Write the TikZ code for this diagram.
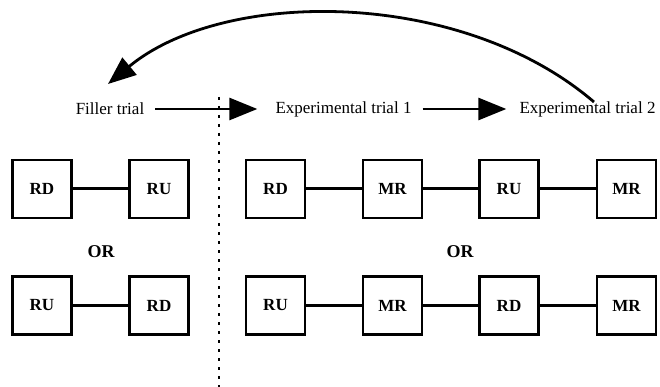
\documentclass[tikz,border=0pt]{standalone}
\usepackage{fontspec}
\setmainfont{Liberation Serif}
\usetikzlibrary{arrows.meta}
\tikzset{
  trialbox/.style={draw,line width=2.5pt,minimum width=59pt,minimum height=58pt,inner sep=0pt,font=\fontsize{17}{20}\selectfont\bfseries},
  link/.style={line width=3pt},
  trialname/.style={font=\fontsize{17}{20}\selectfont,inner sep=0pt},
  orlabel/.style={font=\fontsize{18}{21}\selectfont\bfseries},
  bigarrow/.style={line width=2.8pt,-{Triangle[length=28pt,width=22pt]}}
}
\begin{document}
\begin{tikzpicture}[x=1pt,y=-1pt]
                \useasboundingbox (0,0) rectangle (660,387);
                \node [trialname] (filler) at (110,109) {Filler trial};
                \node [trialname] (expone) at (343.5,109) {Experimental trial 1};
                \node [trialname] (exptwo) at (587.5,109) {Experimental trial 2};
                \draw [bigarrow,shorten <=11pt,shorten >=18pt] (filler) -- (expone);
                \draw [bigarrow,shorten <=11pt,shorten >=13pt] (expone) -- (exptwo);
                \coordinate (backstart) at (594,102);
                \coordinate (backend) at (108,84);
                \draw [bigarrow] (backstart) .. controls (461,-12) and (224,-12) .. (backend);
                \coordinate (divtop) at (219,97);
                \coordinate (divbot) at (219,387);
                \draw [line width=2.5pt,dash pattern=on 3pt off 6pt] (divtop) -- (divbot);
                \node [trialbox] (fa1) at (42,189) {RD};
                \node [trialbox] (fa2) at (159,189) {RU};
                \node [trialbox] (fb1) at (42,305.5) {RU};
                \node [trialbox] (fb2) at (159,305.5) {RD};
                \draw [link] (fa1) -- (fa2);
                \draw [link] (fb1) -- (fb2);
                \node [orlabel] (leftor) at (101,252) {OR};
                \node [trialbox] (ea1) at (275.5,189) {RD};
                \node [trialbox] (ea2) at (392.5,189) {MR};
                \node [trialbox] (ea3) at (509,189) {RU};
                \node [trialbox] (ea4) at (626.5,189) {MR};
                \node [trialbox] (eb1) at (275.5,305.5) {RU};
                \node [trialbox] (eb2) at (392.5,305.5) {MR};
                \node [trialbox] (eb3) at (509,305.5) {RD};
                \node [trialbox] (eb4) at (626.5,305.5) {MR};
                \draw [link] (ea1) -- (ea2) -- (ea3) -- (ea4);
                \draw [link] (eb1) -- (eb2) -- (eb3) -- (eb4);
                \node [orlabel] (rightor) at (460,252) {OR};
            \end{tikzpicture}
\end{document}
